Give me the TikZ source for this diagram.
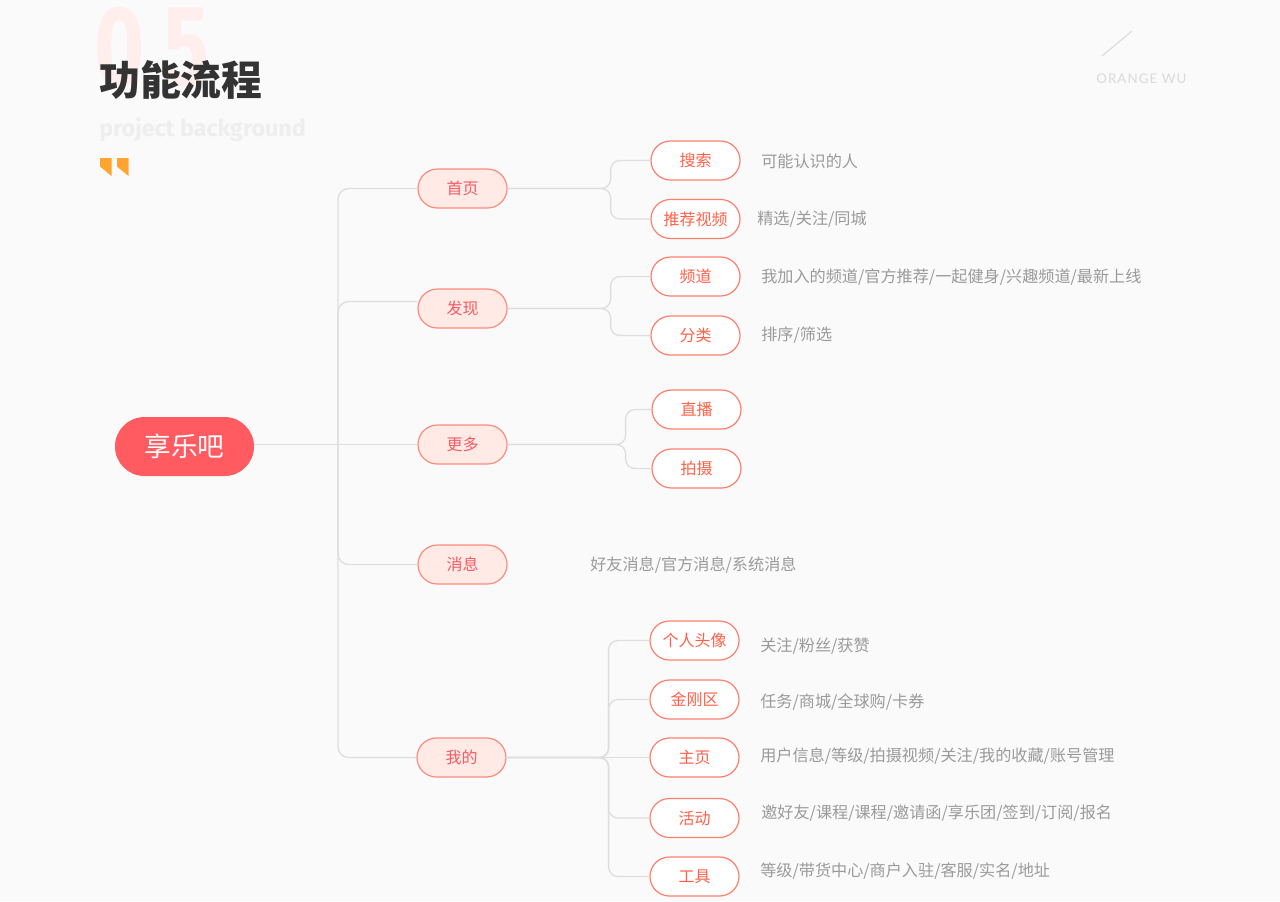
\documentclass[tikz,border=0pt]{standalone}
\usepackage{fontspec}
\setmainfont{Noto Sans CJK SC}
\newfontfamily\fira{Fira Sans}
\newfontfamily\orangefont[LetterSpace=8]{Lato}
\definecolor{bg}{HTML}{FAFAFA}
\definecolor{linec}{HTML}{DEDEDE}
\definecolor{rootf}{HTML}{FF5B60}
\definecolor{lonef}{HTML}{FFEAE6}
\definecolor{loneb}{HTML}{FF8A7E}
\definecolor{lonet}{HTML}{F85A62}
\definecolor{ltwob}{HTML}{FF7F6C}
\definecolor{ltwot}{HTML}{FF6148}
\definecolor{descc}{HTML}{9A9A9A}
\definecolor{titlec}{HTML}{333333}
\definecolor{numc}{HTML}{FFEEEB}
\definecolor{subc}{HTML}{EEEEEE}
\definecolor{quotec}{HTML}{FFA42E}
\definecolor{logoc}{HTML}{DADADA}
\begin{document}
\begin{tikzpicture}[x=0.75pt,y=-0.75pt,
  conn/.style={draw=linec, line width=1pt, rounded corners=7pt},
  rootbox/.style={rectangle, rounded corners=22.1pt, fill=rootf, text=white,
    minimum width=104.25pt, minimum height=44.25pt, inner sep=0pt,
    font=\fontsize{20}{24}\selectfont},
  lone/.style={rectangle, rounded corners=14.6pt, draw=loneb, fill=lonef, text=lonet,
    line width=0.9pt, minimum width=66.75pt, minimum height=29.25pt, inner sep=0pt,
    font=\fontsize{12}{14}\selectfont},
  ltwo/.style={rectangle, rounded corners=14.6pt, draw=ltwob, fill=white, text=ltwot,
    line width=0.9pt, minimum width=66.75pt, minimum height=29.25pt, inner sep=0pt,
    font=\fontsize{12}{14}\selectfont},
  desc/.style={anchor=west, text=descc, inner sep=0pt, font=\fontsize{12.1}{14}\selectfont}
]
\useasboundingbox[fill=bg] (0,0) rectangle (1280,901);

% header
\node[text=numc, inner sep=0pt, font=\fira\bfseries\fontsize{86}{90}\selectfont, xscale=0.75] (n0) at (120,48) {0};
\node[text=numc, inner sep=0pt, font=\fira\bfseries\fontsize{86}{90}\selectfont, xscale=0.75] (n5) at (187,48) {5};
\node[anchor=west, text=titlec, inner sep=0pt, font=\bfseries\fontsize{30.6}{34}\selectfont] (title) at (99,80) {功能流程};
\node[anchor=west, text=subc, inner sep=0pt, font=\fira\bfseries\fontsize{17.4}{19}\selectfont] (sub) at (99,130) {project background};
\fill[quotec] (100,158) -- (111.5,158) -- (111.5,176) -- (100,166.5) -- cycle;
\fill[quotec] (117,158) -- (128.5,158) -- (128.5,176) -- (117,166.5) -- cycle;
\draw[logoc, line width=0.8pt] (1102,56) -- (1132,31);
\node[anchor=west, text=logoc, inner sep=0pt, font=\orangefont\fontsize{10}{12}\selectfont] (logo) at (1096,78.5) {ORANGE WU};

% nodes
\node[rootbox] (root) at (184.5,446.5) {享乐吧};
\node[lone] (shouye) at (462.5,188.5) {首页};
\node[lone] (faxian) at (462.5,308.5) {发现};
\node[lone] (gengduo) at (462.5,444.5) {更多};
\node[lone] (xiaoxi) at (462.5,564.5) {消息};
\node[lone] (wode) at (461.5,757.5) {我的};

\node[ltwo] (sousuo) at (695.5,160.5) {搜索};
\node[ltwo] (tuijian) at (695.5,219) {推荐视频};
\node[ltwo] (pindao) at (695.5,276.5) {频道};
\node[ltwo] (fenlei) at (695.5,335.5) {分类};
\node[ltwo] (zhibo) at (696.5,409.5) {直播};
\node[ltwo] (paishe) at (696.5,468.5) {拍摄};
\node[ltwo] (touxiang) at (694.5,640.5) {个人头像};
\node[ltwo] (jingang) at (694.5,699.5) {金刚区};
\node[ltwo] (zhuye) at (694.5,757.5) {主页};
\node[ltwo] (huodong) at (694.5,818) {活动};
\node[ltwo] (gongju) at (694.5,876.5) {工具};

\node[desc] (d1) at (761,161) {可能认识的人};
\node[desc] (d2) at (757,219) {精选/关注/同城};
\node[desc] (d3) at (761,277) {我加入的频道/官方推荐/一起健身/兴趣频道/最新上线};
\node[desc] (d4) at (761,335) {排序/筛选};
\node[desc] (d5) at (590,565) {好友消息/官方消息/系统消息};
\node[desc] (d6) at (760,646) {关注/粉丝/获赞};
\node[desc] (d7) at (760,702) {任务/商城/全球购/卡券};
\node[desc] (d8) at (760,756) {用户信息/等级/拍摄视频/关注/我的收藏/账号管理};
\node[desc] (d9) at (761,813) {邀好友/课程/课程/邀请函/享乐团/签到/订阅/报名};
\node[desc] (d10) at (760,871) {等级/带货中心/商户入驻/客服/实名/地址};

% connectors
\coordinate (tk) at (338,444.5);
\draw[conn] (root.east |- gengduo.west) -- (gengduo.west);
\draw[conn, rounded corners=8pt] (shouye.west) -| (tk) |- (wode.west);
\draw[conn, rounded corners=8pt] (tk) |- ([yshift=5.25pt]faxian.west);
\draw[conn, rounded corners=8pt] (tk) |- (xiaoxi.west);

\path (shouye.east) ++(103,0) coordinate (j1);
\path (faxian.east) ++(103,0) coordinate (j2);
\path (gengduo.east) ++(118,0) coordinate (j3);
\path (wode.east) ++(102,0) coordinate (j4);

\draw[conn] (shouye.east) -- (j1) |- (sousuo.west);
\draw[conn] (shouye.east) -- (j1) |- (tuijian.west);
\draw[conn] (faxian.east) -- (j2) |- (pindao.west);
\draw[conn] (faxian.east) -- (j2) |- (fenlei.west);
\draw[conn] (gengduo.east) -- (j3) |- (zhibo.west);
\draw[conn] (gengduo.east) -- (j3) |- (paishe.west);
\draw[conn] (wode.east) -- (j4) |- (touxiang.west);
\draw[conn] (wode.east) -- (j4) |- (jingang.west);
\draw[conn] (wode.east) -- (zhuye.west);
\draw[conn] (wode.east) -- (j4) |- (huodong.west);
\draw[conn] (wode.east) -- (j4) |- (gongju.west);
\end{tikzpicture}
\end{document}
